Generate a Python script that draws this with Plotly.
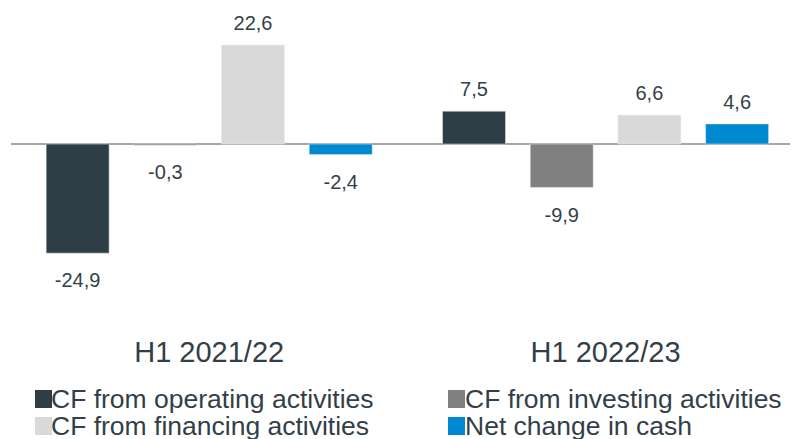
import plotly.graph_objects as go

# data
periods = ['H1 2021/22', 'H1 2022/23']
series = ['CF from operating activities', 'CF from investing activities',
          'CF from financing activities', 'Net change in cash']
operating = [-24.9, 7.5]
investing = [-0.3, -9.9]
financing = [22.6, 6.6]
net_change = [-2.4, 4.6]
colors = ['#2f3e46', '#808080', '#d9d9d9', '#0089d1']

values = [operating, investing, financing, net_change]
txt_col = '#333f48'
font = 'Arial, Liberation Sans, sans-serif'

# page body has an 8px margin, so the figure is a bit smaller than the window
W, H = 790, 431
L, B = 3, 107
plot_w = W - L
plot_h = H - B

fig = go.Figure()

# bars
for i, (name, vals) in enumerate(zip(series, values)):
    fig.add_trace(go.Bar(x=periods, y=vals, name=name, marker_color=colors[i],
                         offsetgroup=str(i), showlegend=False, hoverinfo='skip'))

# value labels, a bit away from the bar ends
for i, (name, vals) in enumerate(zip(series, values)):
    fig.add_trace(go.Scatter(
        x=periods, y=vals, mode='markers+text', offsetgroup=str(i),
        text=[f'{v:.1f}'.replace('.', ',') for v in vals],
        textposition=['top center' if v >= 0 else 'bottom center' for v in vals],
        marker=dict(size=[14 if v >= 0 else 29 for v in vals], opacity=0),
        textfont=dict(size=20, color=txt_col, family=font),
        showlegend=False, hoverinfo='skip'))

# legend drawn by hand (2 columns, tight rows)
def px(x):
    return (x - L) / plot_w

def py(y):
    return (plot_h - y) / plot_h

col_sq = [27, 440]
col_txt = [42, 456]
row_top = [382, 409]
for i, name in enumerate(series):
    c, r = i % 2, i // 2
    fig.add_shape(type='rect', xref='paper', yref='paper',
                  x0=px(col_sq[c]), x1=px(col_sq[c] + 17),
                  y0=py(row_top[r]), y1=py(row_top[r] + 18),
                  fillcolor=colors[i], line_width=0)
    fig.add_annotation(text=name, xref='paper', yref='paper',
                       x=px(col_txt[c]), y=py(row_top[r] + 9),
                       xanchor='left', yanchor='middle', showarrow=False,
                       borderpad=0,
                       font=dict(size=26.5, color=txt_col, family=font))

fig.update_layout(
    width=W, height=H,
    margin=dict(l=L, r=0, t=0, b=B),
    plot_bgcolor='white', paper_bgcolor='white',
    barmode='group', bargap=0.115, bargroupgap=0.282,
    scattermode='group', scattergap=0.115,
    showlegend=False,
    font=dict(family=font, color=txt_col),
)
fig.update_xaxes(range=[-0.5, 1.4855], showgrid=False, showline=False, ticks='',
                 tickfont=dict(size=29, color=txt_col, family=font))
fig.update_yaxes(range=[-42.9, 31.05], showgrid=False, showticklabels=False,
                 zeroline=True, zerolinecolor='#a6a6a6', zerolinewidth=2)

fig.write_html("out.html")
